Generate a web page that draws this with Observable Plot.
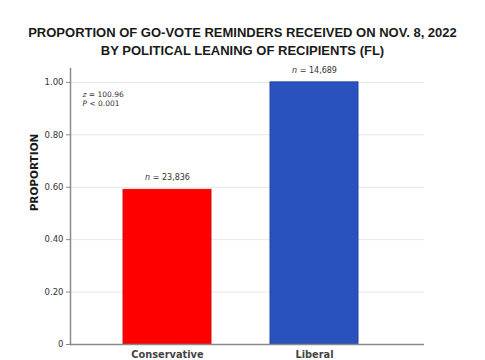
<!DOCTYPE html>
<html>
<head>
<meta charset="utf-8">
<script src="https://cdn.jsdelivr.net/npm/d3@7"></script>
<script src="https://cdn.jsdelivr.net/npm/@observablehq/plot@0.6"></script>
<style>
  body { margin: 0; background: #fff; width: 485px; height: 360px; overflow: hidden; }
  #title { font-family: "Liberation Sans", Arial, sans-serif; font-weight: bold; font-size: 13px;
           line-height: 18px; text-align: center; color: #1a1a1a; padding-top: 24px; height: 36px; }
  #chart svg, #chart svg text { font-family: "DejaVu Sans", sans-serif; }
</style>
</head>
<body>
<div id="title">PROPORTION OF GO-VOTE REMINDERS RECEIVED ON NOV. 8, 2022<br>BY POLITICAL LEANING OF RECIPIENTS (FL)</div>
<div id="chart"></div>
<script>
const categories = ["Conservative", "Liberal"];
const proportions = [0.59, 1.00];
const sampleSizes = ["23,836", "14,689"];
const barColors = ["#ff0000", "#2a52be"];
const barEdges = ["#d01010", "#20449f"];
const yTicks = [0, 0.2, 0.4, 0.6, 0.8, 1.0];
const statsText = "z = 100.96\nP < 0.001";

const data = categories.map((c, i) => ({
  cat: c, value: proportions[i], n: "n = " + sampleSizes[i], fill: barColors[i], edge: barEdges[i]
}));

const chart = Plot.plot({
  width: 485,
  height: 300,
  marginLeft: 70,
  marginRight: 61,
  marginTop: 8,
  marginBottom: 16,
  style: { fontFamily: "'DejaVu Sans', sans-serif", background: "#fff" },
  x: { domain: categories, paddingInner: 0.4, paddingOuter: 0.404, align: 0.446, label: null },
  y: { domain: [0, 1.053], label: null },
  color: { type: "identity" },
  marks: [
    Plot.gridY(yTicks, { stroke: "#e6e6e6", strokeOpacity: 1, strokeWidth: 1 }),
    Plot.barY(data, { x: "cat", y: "value", fill: "fill", stroke: "edge", strokeWidth: 1 }),
    Plot.frame({ anchor: "left", stroke: "#8a8a8a", strokeWidth: 1.5 }),
    Plot.ruleY([0], { stroke: "#8a8a8a", strokeWidth: 1.5 }),
    Plot.axisY(yTicks, { tickFormat: d => d === 0 ? "0" : d.toFixed(2), tickSize: 4, tickPadding: 3,
      stroke: "#8a8a8a", fill: "#333", fontSize: 8.5, label: null }),
    Plot.axisX({ tickSize: 0, tickPadding: 7, fontSize: 9.8, fontWeight: "bold", fill: "#444", label: null }),
    Plot.text(["PROPORTION"], { frameAnchor: "left", textAnchor: "middle", rotate: -90, dx: -36, dy: -34,
      fontSize: 10.5, fontWeight: "bold", fill: "#1a1a1a" }),
    Plot.text(data, { x: "cat", y: "value", text: "n", dy: -12, fontSize: 8, fill: "#333",
      className: "italic-first" }),
    Plot.text([statsText], { frameAnchor: "top-left", dx: 12, dy: 22, lineAnchor: "top",
      textAnchor: "start", fontSize: 7.5, lineHeight: 1.2, fill: "#333", className: "italic-first" })
  ]
});
document.getElementById("chart").appendChild(chart);

// italicize the statistical symbol at the start of each annotation line
function italicFirst(el) {
  const t = el.textContent;
  el.textContent = "";
  const ns = "http://www.w3.org/2000/svg";
  const a = document.createElementNS(ns, "tspan");
  a.setAttribute("font-style", "italic");
  a.textContent = t[0];
  el.appendChild(a);
  el.appendChild(document.createTextNode(t.slice(1)));
}
chart.querySelectorAll("g.italic-first text").forEach(txt => {
  const spans = txt.querySelectorAll("tspan");
  if (spans.length) spans.forEach(italicFirst); else italicFirst(txt);
});
</script>
</body>
</html>
